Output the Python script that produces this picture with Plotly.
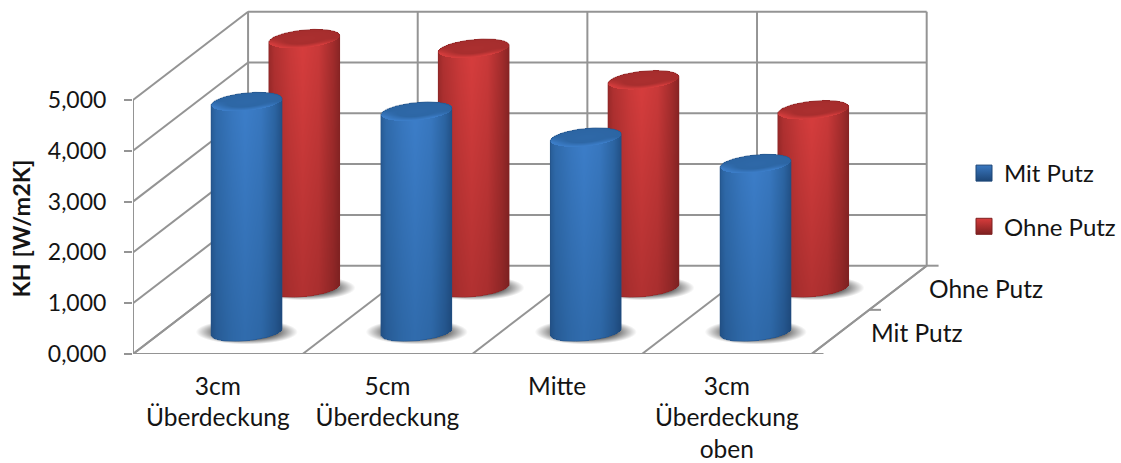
import numpy as np
import plotly.graph_objects as go

# Chart data
categories = ["3cm<br>Überdeckung", "5cm<br>Überdeckung", "Mitte", "3cm<br>Überdeckung<br>oben"]
series_names = ["Mit Putz", "Ohne Putz"]
mit_putz = [4.53, 4.34, 3.83, 3.31]
ohne_putz = [4.90, 4.71, 4.09, 3.50]
value_ticks = [0, 1, 2, 3, 4, 5]

# Oblique projection: one category / one value unit in pixels, and the
# screen offset of the full depth of the floor.
W, H = 1121, 463
LEFT, BOTTOM = 133, 109
CAT_PX, VAL_PX = 170.0, 50.8
DEPTH_DX_PX, DEPTH_DY_PX = 115.3, 88.3
DX = DEPTH_DX_PX / CAT_PX
DY = DEPTH_DY_PX / VAL_PX
X_RANGE = [0, (W - LEFT) / CAT_PX]
Y_RANGE = [0, (H - BOTTOM) / VAL_PX]
N_CAT = len(categories)
V_MAX = value_ticks[-1]
SERIES_DEPTH = [0.25, 0.75]

# Cylinder footprint, in category units and floor-depth fractions
RADIUS_CAT = 0.1959
RADIUS_DEPTH = 0.108

BLUE_RAMP = [[0, "#123560"], [0.3, "#1f4b7e"], [0.6, "#2c65a3"], [1, "#3d7fcb"]]
RED_RAMP = [[0, "#541414"], [0.3, "#802222"], [0.6, "#a52d2d"], [1, "#d93e3e"]]
SHADOW_RAMP = [[0, "rgba(60,60,60,0)"], [1, "rgba(60,60,60,0.95)"]]
GRID = "#949494"
INK = "#141414"
FONT = "Lato"


def project(cat, val, depth):
    return cat + depth * DX, val + depth * DY


def segments(pairs):
    xs, ys = [], []
    for (a, b) in pairs:
        xa, ya = project(*a)
        xb, yb = project(*b)
        xs += [xa, xb, None]
        ys += [ya, yb, None]
    return xs, ys


def wall_lines():
    segs = [((0, 0, 0), (N_CAT, 0, 0)), ((0, 0, 0), (0, V_MAX, 0)), ((N_CAT, 0, 0), (N_CAT, 0, 1))]
    for v in value_ticks:
        segs.append(((0, v, 0), (0, v, 1)))
        segs.append(((0, v, 1), (N_CAT, v, 1)))
    for c in range(N_CAT + 1):
        segs.append(((c, 0, 0), (c, 0, 1)))
        segs.append(((c, 0, 1), (c, V_MAX, 1)))
    for d in (0, 0.5, 1):
        segs.append(((N_CAT, 0, d), (N_CAT + 0.07, 0, d)))
    return segments(segs)


def grid_for(cx, cy_lo, cy_hi, half_x, pad_y):
    """Axis-unit cell centres of a one-pixel grid around a region."""
    x0 = np.floor((cx - half_x) * CAT_PX) / CAT_PX
    x1 = np.ceil((cx + half_x) * CAT_PX) / CAT_PX
    y0 = np.floor((cy_lo - pad_y) * VAL_PX) / VAL_PX
    y1 = np.ceil((cy_hi + pad_y) * VAL_PX) / VAL_PX
    xs = np.arange(x0 + 0.5 / CAT_PX, x1, 1 / CAT_PX)
    ys = np.arange(y0 + 0.5 / VAL_PX, y1, 1 / VAL_PX)
    return xs, ys


def ellipse_axes():
    a = RADIUS_CAT * CAT_PX
    b = RADIUS_DEPTH * DEPTH_DX_PX
    c = RADIUS_DEPTH * DEPTH_DY_PX
    return a, b, c


def ellipse_span(dx_px):
    """Lower and upper screen-up offsets of the tilted footprint at a column."""
    a, b, c = ellipse_axes()
    qa = (b / (c * a)) ** 2 + 1 / c**2
    qb = -2 * dx_px * b / (c * a**2)
    qc = dx_px**2 / a**2 - 1
    disc = np.clip(qb**2 - 4 * qa * qc, 0, None)
    return (-qb - np.sqrt(disc)) / (2 * qa), (-qb + np.sqrt(disc)) / (2 * qa)


def footprint_coords(dx_px, up_px):
    a, b, c = ellipse_axes()
    q = up_px / c
    s = (dx_px - b * q) / a
    return s, q


def cylinder_field(cat, value, depth):
    cx, base = project(cat + 0.5, 0, depth)
    top = base + value
    a, b, c = ellipse_axes()
    half = np.hypot(a, b) / CAT_PX
    xs, ys = grid_for(cx, base, top, half + 2 / CAT_PX, (c + 2) / VAL_PX)
    gx, gy = np.meshgrid(xs, ys)
    dx_px = (gx - cx) * CAT_PX
    up_base = (gy - base) * VAL_PX
    up_top = (gy - top) * VAL_PX
    low, high = ellipse_span(dx_px)
    R = np.hypot(a, b)
    inside = (np.abs(dx_px) <= R) & (up_base >= low) & (up_top <= high)

    u = dx_px / R
    across = np.interp(u, [-1, -0.85, -0.4, -0.05, 0.4, 0.8, 1],
                       [0.5, 0.68, 0.88, 0.98, 0.88, 0.58, 0.36])
    v = np.clip(up_base / (value * VAL_PX), 0, 1)
    z = across * (0.72 + 0.28 * v)

    s, q = footprint_coords(dx_px, up_top)
    r = np.hypot(s, q)
    in_cap = (up_top >= low) & (r <= 1)
    rim = np.clip((r - 0.55) / 0.4, 0, 1) * np.clip(-q * 1.7 + 0.1, 0, 1)
    cap = 0.6 + 0.05 * (1 - r) + 0.36 * rim
    z = np.where(in_cap, cap, z)
    z = np.where(inside, z, np.nan)
    return xs, ys, z


def shadow_field(cat, depth):
    cx, base = project(cat + 0.5, 0, depth)
    xs, ys = grid_for(cx, base, base, 0.31, 0.3)
    gx, gy = np.meshgrid(xs, ys)
    rr = np.hypot((gx - cx) / 0.3, (gy - base) / 0.245)
    z = np.clip((1 - rr) / 0.5, 0, 1)
    z = np.where(z > 0, z, np.nan)
    return xs, ys, z


def outline(cat, value, depth):
    cx, base = project(cat + 0.5, 0, depth)
    a, b, c = ellipse_axes()
    cut = np.arctan2(b, a)
    t1 = np.linspace(cut, cut + np.pi, 70)
    t2 = np.linspace(cut + np.pi, cut + 2 * np.pi, 70)
    top_x = cx + (a * np.cos(t1) + b * np.sin(t1)) / CAT_PX
    top_y = base + value + c * np.sin(t1) / VAL_PX
    bot_x = cx + (a * np.cos(t2) + b * np.sin(t2)) / CAT_PX
    bot_y = base + c * np.sin(t2) / VAL_PX
    return list(top_x) + list(bot_x) + [top_x[0]], list(top_y) + list(bot_y) + [top_y[0]]


fig = go.Figure()

# Walls, floor and gridlines on the base axes
gx, gy = wall_lines()
fig.add_trace(go.Scatter(x=gx, y=gy, mode="lines", line=dict(color=GRID, width=2),
                         hoverinfo="skip", showlegend=False, cliponaxis=False))

# Back row on the second axes pair, front row on the third, so each row
# paints over everything behind it.
rows = [
    (ohne_putz, SERIES_DEPTH[1], RED_RAMP, "rgba(135,36,36,0.55)", "x2", "y2"),
    (mit_putz, SERIES_DEPTH[0], BLUE_RAMP, "rgba(36,80,132,0.55)", "x3", "y3"),
]
for values, depth, ramp, edge, xa, ya in rows:
    for i, val in enumerate(values):
        xs, ys, z = shadow_field(i, depth)
        fig.add_trace(go.Heatmap(x=xs, y=ys, z=z, colorscale=SHADOW_RAMP, zmin=0, zmax=1,
                                 showscale=False, hoverinfo="skip", xaxis=xa, yaxis=ya,
                                 showlegend=False))
    for i, val in enumerate(values):
        xs, ys, z = cylinder_field(i, val, depth)
        fig.add_trace(go.Heatmap(x=xs, y=ys, z=z, colorscale=ramp, zmin=0, zmax=1,
                                 showscale=False, hoverinfo="skip", xaxis=xa, yaxis=ya,
                                 showlegend=False))
        ox, oy = outline(i, val, depth)
        fig.add_trace(go.Scatter(x=ox, y=oy, mode="lines", line=dict(color=edge, width=1),
                                 hoverinfo="skip", xaxis=xa, yaxis=ya, showlegend=False))

# Legend entries
for name, main, rim in [(series_names[0], "#3a78c0", "#1d4677"), (series_names[1], "#d83c3c", "#7d2020")]:
    fig.add_trace(go.Scatter(x=[None], y=[None], mode="markers", name=name, legendgroup=name,
                             marker=dict(symbol="square", size=17, color=main,
                                         gradient=dict(type="vertical", color=rim),
                                         line=dict(color=rim, width=1))))

# Depth axis labels and the rotated value axis title
annotations = []
for name, depth in zip(series_names, SERIES_DEPTH):
    ax, ay = project(N_CAT, 0, depth)
    annotations.append(dict(x=ax, y=ay, text=name, showarrow=False, xanchor="left", yanchor="middle",
                            xshift=29, yshift=-1, font=dict(family=FONT, size=24.5, color=INK)))
annotations.append(dict(xref="paper", x=0, yref="y", y=2.47, text="<b>KH [W/m2K]</b>", textangle=-90,
                        showarrow=False, xanchor="center", yanchor="middle", xshift=-LEFT + 21,
                        font=dict(family=FONT, size=23.5, color=INK)))

axis_hidden = dict(visible=False, fixedrange=True)
fig.update_layout(
    width=W, height=H, autosize=False,
    margin=dict(l=LEFT, r=0, t=0, b=BOTTOM, pad=0),
    paper_bgcolor="white", plot_bgcolor="rgba(0,0,0,0)",
    separators=",.",
    font=dict(family=FONT, size=23, color=INK),
    annotations=annotations,
    legend=dict(x=(966 - LEFT) / (W - LEFT), xanchor="left", y=(H - 151 - BOTTOM) / (H - BOTTOM),
                yanchor="top", font=dict(family=FONT, size=24, color=INK),
                entrywidth=100, entrywidthmode="pixels",
                bgcolor="rgba(0,0,0,0)", tracegroupgap=19, itemclick=False, itemdoubleclick=False),
    xaxis=dict(range=X_RANGE, tickmode="array", tickvals=[i + 0.5 for i in range(N_CAT)],
               ticktext=categories, showgrid=False, zeroline=False, showline=False, ticks="",
               ticklabelstandoff=15, tickangle=0, fixedrange=True, automargin=False,
               tickfont=dict(family=FONT, size=24.5, color=INK)),
    yaxis=dict(range=Y_RANGE, tickmode="array", tickvals=value_ticks, tickformat=".3f",
               showgrid=False, zeroline=False, showline=False, ticks="outside", ticklen=8,
               tickwidth=2, tickcolor=GRID, ticklabelstandoff=13, fixedrange=True, automargin=False,
               tickfont=dict(family=FONT, size=23, color=INK)),
    xaxis2=dict(range=X_RANGE, overlaying="x", anchor="y2", **axis_hidden),
    yaxis2=dict(range=Y_RANGE, overlaying="y", anchor="x2", **axis_hidden),
    xaxis3=dict(range=X_RANGE, overlaying="x", anchor="y3", **axis_hidden),
    yaxis3=dict(range=Y_RANGE, overlaying="y", anchor="x3", **axis_hidden),
)

fig.write_html("out.html", config=dict(displayModeBar=False))
